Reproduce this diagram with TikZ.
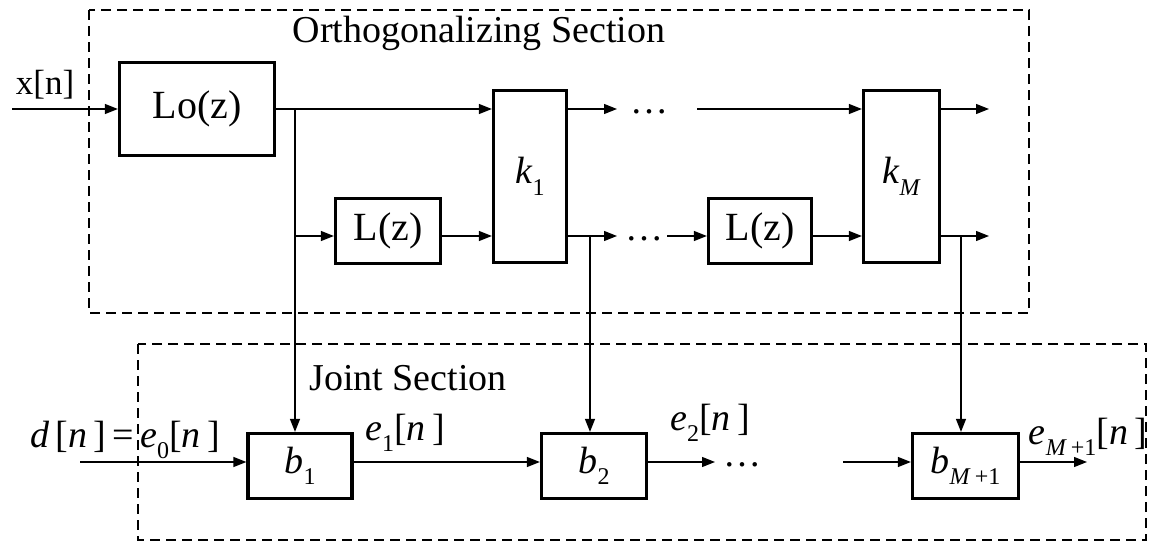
\documentclass[tikz,border=0pt]{standalone}
\usepackage{fontspec}
\setmainfont{Liberation Serif}
\usetikzlibrary{arrows.meta}
\newcommand\lowi[1]{\raisebox{-0.3em}{\fontsize{24}{24}\selectfont #1}}
\newcommand\vi[1]{\textit{#1}}
\begin{document}
\begin{tikzpicture}[x=1pt,y=-1pt,
  box/.style={draw, line width=3.3pt, inner sep=0pt, font=\fontsize{40}{44}\selectfont},
  mbox/.style={box, font=\fontsize{38}{42}\selectfont},
  wire/.style={line width=1.3pt},
  arr/.style={wire, -{Triangle[length=13pt,width=10pt]}},
  sect/.style={draw, line width=2.2pt, dash pattern=on 10pt off 6pt},
  lbl/.style={font=\fontsize{38}{42}\selectfont, inner sep=0pt},
  title/.style={font=\fontsize{38}{42}\selectfont, inner sep=0pt}]
\useasboundingbox (0,0) rectangle (1153,542);
% sections
\draw[sect] (89,10) rectangle (1029,313);
\draw[sect] (138,344) rectangle (1146,540);
\node[title] (ttl1) at (479,33) {Orthogonalizing Section};
\node[title] (ttl2) at (408,378) {Joint Section};
% blocks
\node[box, minimum width=155pt, minimum height=93pt] (lo) at (197,109) {Lo(z)};
\node[box, minimum width=105pt, minimum height=65pt] (l1) at (388,231) {L(z)};
\node[mbox, minimum width=73pt, minimum height=172pt] (k1) at (530,176.5) {\vi{k}\lowi{1}};
\node[box, minimum width=103pt, minimum height=65pt] (l2) at (760,231) {L(z)};
\node[mbox, minimum width=76pt, minimum height=172pt] (kM) at (901.5,176.5) {\vi{k}\lowi{\vi{M}}};
\node[mbox, minimum width=104pt, minimum height=65pt] (b1) at (300,466) {\vi{b}\lowi{1}};
\node[mbox, minimum width=105pt, minimum height=65pt] (b2) at (594,466) {\vi{b}\lowi{2}};
\node[mbox, minimum width=106pt, minimum height=65pt] (bM) at (965.5,466) {\vi{b}\lowi{\vi{M}\,+1}};
% coordinates
\coordinate (xin) at (12,109);
\coordinate (A) at (295,109);
\coordinate (Al) at (295,236);
\coordinate (t1) at (617,109);
\coordinate (t2) at (697,109);
\coordinate (B) at (590,236);
\coordinate (bo1) at (617,236);
\coordinate (bi2) at (667,236);
\coordinate (C) at (961,236);
\coordinate (ko1) at (989,109);
\coordinate (ko2) at (989,236);
\coordinate (din) at (80,462);
\coordinate (o2) at (715,462);
\coordinate (iM) at (843,462);
\coordinate (oM) at (1087,462);
% labels
\node[lbl, font=\fontsize{35}{38}\selectfont] (xl) at (45,85) {x[n]};
\node[lbl] (dots1) at (649,112) {\dots};
\node[lbl] (dots2) at (644,239) {\dots};
\node[lbl] (dots3) at (742,465) {\dots};
\node[lbl] (dl) at (125,440) {\vi{d}\,[\vi{n}\,]\,=\,\vi{e}\lowi{0}[\vi{n}\,]};
\node[lbl] (e1l) at (405,433) {\vi{e}\lowi{1}[\vi{n}\,]};
\node[lbl] (e2l) at (710,423) {\vi{e}\lowi{2}[\vi{n}\,]};
\node[lbl] (eMl) at (1088,437) {\vi{e}\lowi{\vi{M}\,+1}[\vi{n}\,]};
% connectors
\draw[arr] (xin) -- (lo.west);
\draw[arr] (lo.east) -- (lo.east -| k1.west);
\draw[arr] (A) -- (A |- b1.north);
\draw[arr] (Al) -- (Al -| l1.west);
\draw[arr] (l1.east |- Al) -- (Al -| k1.west);
\draw[arr] (k1.east |- t1) -- (t1);
\draw[arr] (t2) -- (t2 -| kM.west);
\draw[arr] (kM.east |- t1) -- (ko1);
\draw[arr] (k1.east |- B) -- (bo1);
\draw[arr] (B) -- (B |- b2.north);
\draw[arr] (bi2) -- (bi2 -| l2.west);
\draw[arr] (l2.east |- B) -- (B -| kM.west);
\draw[arr] (kM.east |- C) -- (ko2);
\draw[arr] (C) -- (C |- bM.north);
\draw[arr] (din) -- (din -| b1.west);
\draw[arr] (b1.east |- din) -- (din -| b2.west);
\draw[arr] (b2.east |- din) -- (o2);
\draw[arr] (iM) -- (iM -| bM.west);
\draw[arr] (bM.east |- din) -- (oM);
\end{tikzpicture}
\end{document}
